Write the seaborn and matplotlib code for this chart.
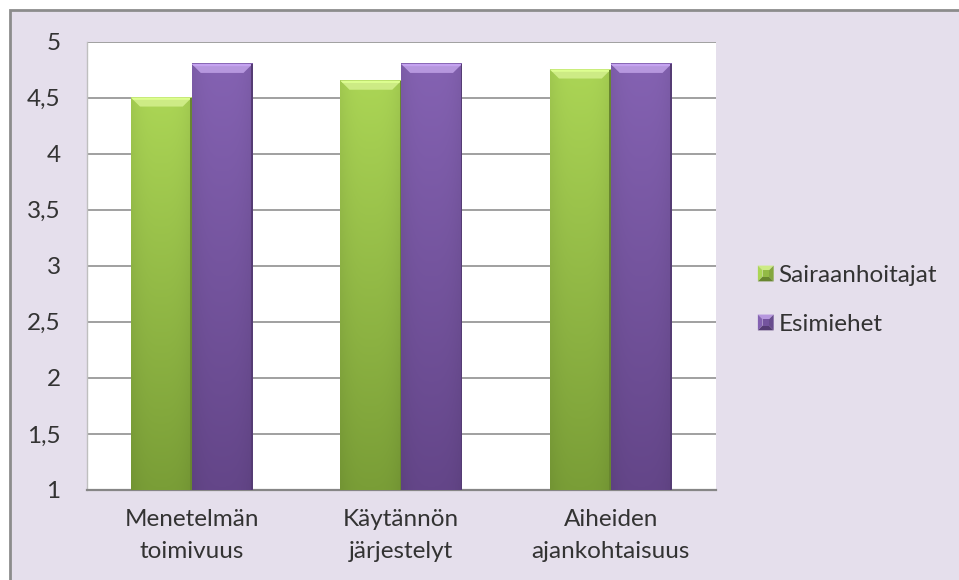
import numpy as np
import pandas as pd
import matplotlib
matplotlib.use("Agg")
import matplotlib.pyplot as plt
import seaborn as sns
from matplotlib.patches import Rectangle, Polygon
from matplotlib.legend_handler import HandlerBase
from matplotlib.ticker import FuncFormatter, MultipleLocator
import matplotlib.colors as mcolors

categories = ["Menetelmän\ntoimivuus", "Käytännön\njärjestelyt", "Aiheiden\najankohtaisuus"]
series = ["Sairaanhoitajat", "Esimiehet"]
sairaanhoitajat = [4.5, 4.65, 4.75]
esimiehet = [4.8, 4.8, 4.8]
y_ticks = [1, 1.5, 2, 2.5, 3, 3.5, 4, 4.5, 5]

# colour styles per series: (top-of-body, bottom-of-body, bevel)
palette = {"Sairaanhoitajat": "#94BF4A", "Esimiehet": "#7A5AA6"}
grad = {
    "Sairaanhoitajat": ("#ABD555", "#7A9E37", "#CDEB85"),
    "Esimiehet": ("#8462B2", "#644689", "#B697DE"),
}

df = pd.DataFrame({
    "category": categories * 2,
    "series": [series[0]] * 3 + [series[1]] * 3,
    "value": sairaanhoitajat + esimiehet,
})

sns.set_style("white")
FONT = ["Lato", "DejaVu Sans"]
plt.rcParams["font.family"] = FONT
TXT = "#333333"
FS = 17.5

W, H = 959, 580
fig = plt.figure(figsize=(W / 100, H / 100), dpi=100)
fig.patch.set_facecolor("white")

# chart area background with border (only top/left visible)
bg = Rectangle((10 / W, -0.05), 1.1, 1 - 10 / H + 0.05,
               transform=fig.transFigure, facecolor="#E5DFEC",
               edgecolor="#8C8C8C", linewidth=2, zorder=-5)
fig.patches.append(bg)

left, right, top, bottom = 87, 715.5, 41.5, 490
ax = fig.add_axes([left / W, 1 - bottom / H, (right - left) / W, (bottom - top) / H])
ax.set_zorder(1)
ax.set_facecolor("white")

sns.barplot(data=df, x="category", y="value", hue="series", palette=palette,
            width=0.58, saturation=1, ax=ax, legend=False, zorder=2)

ax.set_xlim(-0.5, len(categories) - 0.5)
ax.set_ylim(y_ticks[0], y_ticks[-1])
ax.yaxis.set_major_locator(MultipleLocator(0.5))
ax.yaxis.set_major_formatter(FuncFormatter(lambda v, p: (f"{v:g}").replace(".", ",")))
ax.grid(axis="y", color="#868686", linewidth=1.1, zorder=0)
ax.set_axisbelow(True)
ax.set_xlabel("")
ax.set_ylabel("")
for s in ["top", "right"]:
    ax.spines[s].set_visible(False)
ax.spines["left"].set_color("#BFBFBF")
ax.spines["left"].set_linewidth(1)
ax.spines["bottom"].set_color("#868686")
ax.spines["bottom"].set_linewidth(1.6)
ax.tick_params(axis="y", length=0, pad=19, labelsize=FS, labelcolor=TXT)
ax.tick_params(axis="x", length=0, pad=14, labelsize=FS, labelcolor=TXT)
for t in ax.get_xticklabels():
    t.set_linespacing(1.65)

# gradient + bevel rendering of seaborn's bars
pxx = ax.bbox.width / (ax.get_xlim()[1] - ax.get_xlim()[0])
pxy = ax.bbox.height / (ax.get_ylim()[1] - ax.get_ylim()[0])
ybase = ax.get_ylim()[0]
bev = 9
for cont, name in zip(ax.containers, series):
    ctop, cbot, cbev = [np.array(mcolors.to_rgb(c)) for c in grad[name]]
    for p in cont.patches:
        x0, w, h = p.get_x(), p.get_width(), p.get_height()
        n = 64
        t = np.linspace(0, 1, n)[:, None]
        col = ctop[None, :] * (1 - t) + cbot[None, :] * t
        m = 32
        u = np.linspace(-1, 1, m)
        shade = 1 - 0.06 * np.abs(u) ** 3
        img = col[:, None, :] * shade[None, :, None]
        img = np.clip(img, 0, 1)
        ax.imshow(img, extent=[x0, x0 + w, ybase, h], aspect="auto",
                  zorder=3, interpolation="bilinear")
        bx, by = bev / pxx, bev / pxy
        # top bevel (lighter), with slightly brighter top edge
        ax.add_patch(Polygon([(x0, h), (x0 + w, h), (x0 + w - bx, h - by),
                              (x0 + bx, h - by)], closed=True,
                             facecolor=cbev, edgecolor="none", zorder=4))
        ax.add_patch(Polygon([(x0, h), (x0 + w, h), (x0 + w - 0.25 * bx, h - 0.25 * by),
                              (x0 + 0.25 * bx, h - 0.25 * by)], closed=True,
                             facecolor=np.clip(cbev * 1.08, 0, 1), edgecolor="none", zorder=4))
        ax.add_patch(Polygon([(x0 + w, h), (x0 + w, ybase), (x0 + w - 1.5 / pxx, ybase),
                              (x0 + w - 1.5 / pxx, h)], closed=True,
                             facecolor=cbot * 0.85, edgecolor="none", zorder=4))
        p.set_visible(False)
ax.set_xlim(-0.5, len(categories) - 0.5)
ax.set_ylim(y_ticks[0], y_ticks[-1])


class PyramidHandler(HandlerBase):
    def __init__(self, name):
        super().__init__()
        self.name = name

    def create_artists(self, legend, orig_handle, xdescent, ydescent, width, height,
                       fontsize, trans):
        ctop, cbot, cbev = [np.array(mcolors.to_rgb(c)) for c in grad[self.name]]
        s = min(width, height)
        x0 = -xdescent + (width - s) / 2
        y0 = -ydescent + (height - s) / 2
        x1, y1 = x0 + s, y0 + s
        i = s * 0.3
        cx0, cy0, cx1, cy1 = x0 + i, y0 + i, x1 - i, y1 - i
        mid = (ctop + cbot) / 2
        faces = [
            ([(x0, y1), (x1, y1), (cx1, cy1), (cx0, cy1)], cbev),
            ([(x0, y0), (x0, y1), (cx0, cy1), (cx0, cy0)], ctop),
            ([(x1, y0), (x1, y1), (cx1, cy1), (cx1, cy0)], mid * 0.9),
            ([(x0, y0), (x1, y0), (cx1, cy0), (cx0, cy0)], cbot * 0.85),
            ([(cx0, cy0), (cx1, cy0), (cx1, cy1), (cx0, cy1)], mid),
        ]
        arts = []
        for pts, c in faces:
            pg = Polygon(pts, closed=True, facecolor=c, edgecolor="none", transform=trans)
            arts.append(pg)
        return arts


handles = [Rectangle((0, 0), 1, 1) for _ in series]
leg = fig.legend(handles, series, loc="center left",
                 bbox_to_anchor=(736 / W, 1 - 300 / H), frameon=False,
                 fontsize=FS, labelcolor=TXT, handlelength=0.65, handleheight=0.65,
                 handletextpad=0.2, labelspacing=1.15,
                 handler_map={h: PyramidHandler(n) for h, n in zip(handles, series)})

fig.savefig("out.png", dpi=100, facecolor=fig.get_facecolor())
